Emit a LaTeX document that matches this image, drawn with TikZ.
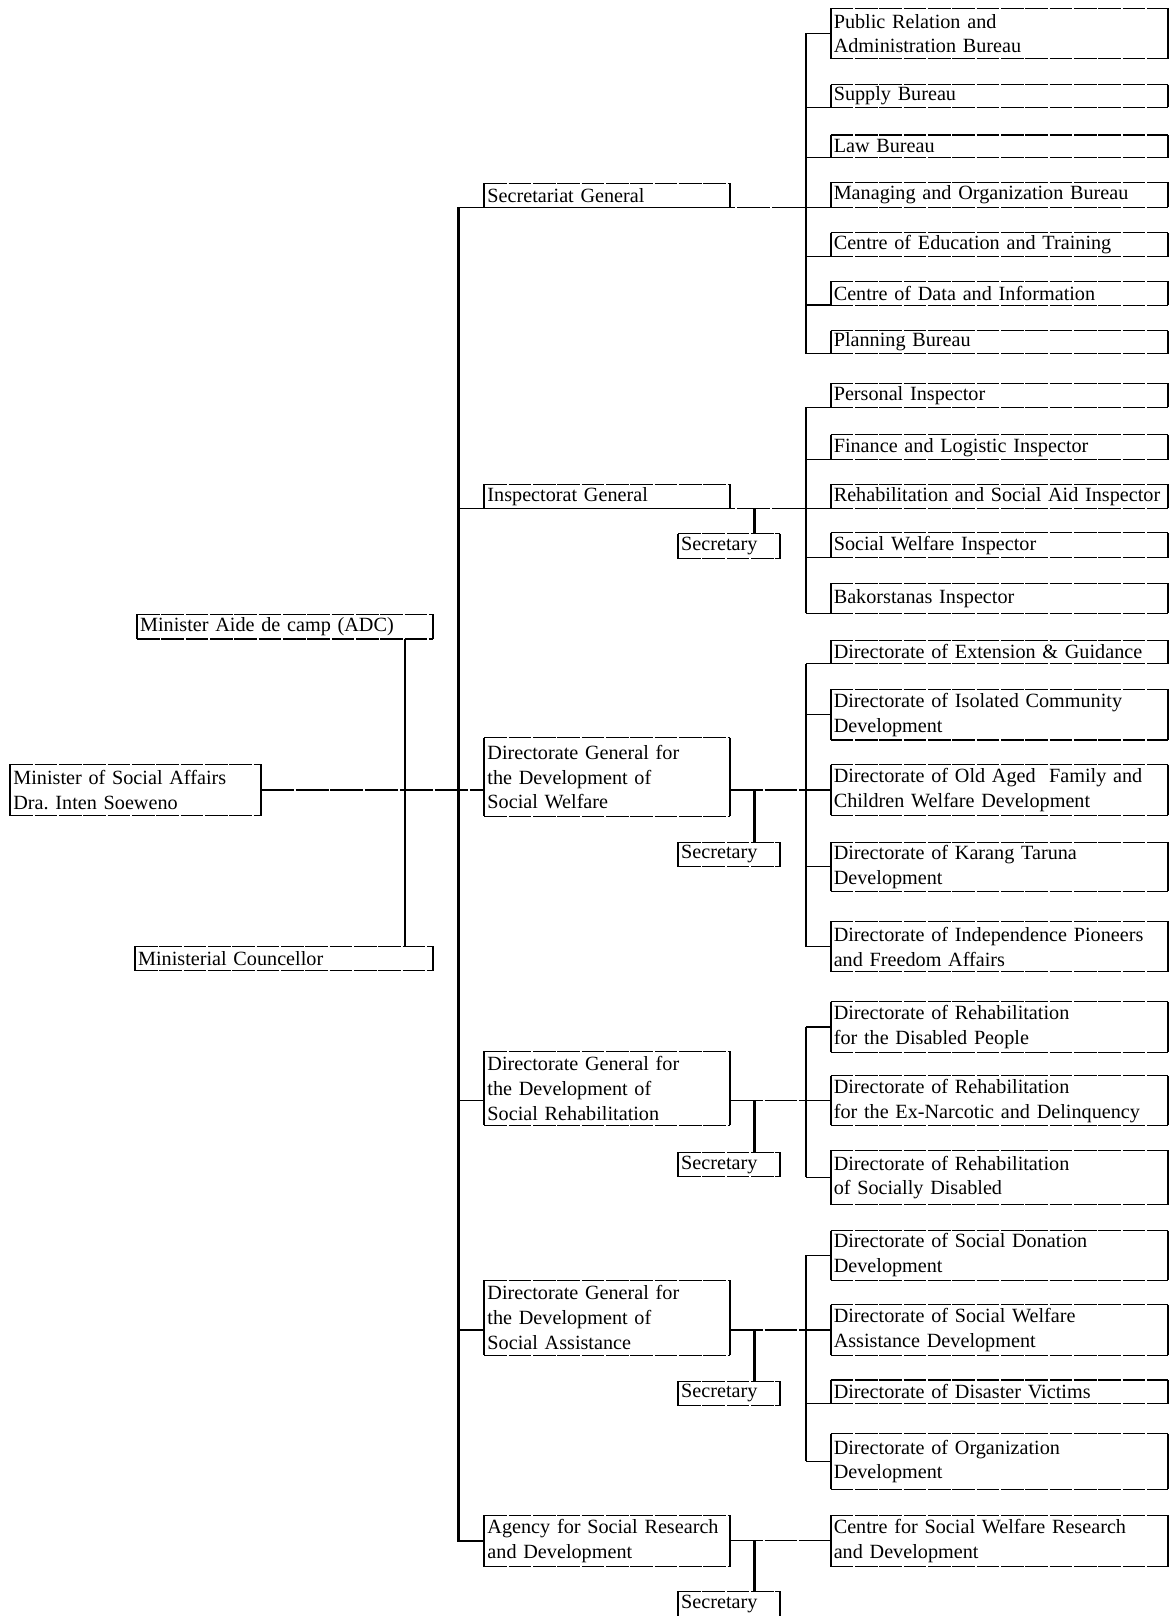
\documentclass[tikz,border=0pt]{standalone}
\usepackage{fontspec}
\setmainfont{Liberation Serif}
\hyphenpenalty=10000
\exhyphenpenalty=10000
\begin{document}
\begin{tikzpicture}[x=0.5pt,y=-0.5pt,
  box/.style={anchor=north west, inner xsep=1.5pt, inner ysep=0pt, outer sep=0pt, align=left, font=\fontsize{9.8}{12}\selectfont},
  mid/.style={box, text width=116pt},
  rgt/.style={box, text width=160.5pt},
  sec/.style={box, text width=46.5pt, minimum height=12pt},
  trunk/.style={line width=1.1pt},
  conn/.style={line width=0.55pt, dash pattern=on 16pt off 0.9pt},
  vedge/.style={line width=1pt},
  hedge/.style={line width=0.5pt, dash pattern=on 11pt off 0.8pt}]
\useasboundingbox[fill=white] (0,0) rectangle (1136,1568);
\coordinate (T) at (445,0);
\coordinate (G) at (782,0);
\coordinate (S) at (732,0);
% left column
\node[box, text width=118.5pt, minimum height=25pt] (min) at (10,741.5) {Minister of Social Affairs\\Dra.\ Inten Soeweno};
\node[box, text width=140.5pt, minimum height=12pt] (adc) at (133,596) {Minister Aide de camp (ADC)};
\node[box, text width=141.5pt, minimum height=12pt] (cou) at (131,918) {Ministerial Councellor};
% middle column
\node[mid, minimum height=11.5pt] (sg) at (470,178) {Secretariat General};
\node[mid, minimum height=11.5pt] (ig) at (470,470) {Inspectorat General};
\node[mid, minimum height=38pt] (dgw) at (470,716) {Directorate General for\\the Development of\\Social Welfare};
\node[mid, minimum height=36pt] (dgr) at (470,1020) {Directorate General for\\the Development of\\Social Rehabilitation};
\node[mid, minimum height=36.5pt] (dga) at (470,1242) {Directorate General for\\the Development of\\Social Assistance};
\node[mid, minimum height=25pt] (ag) at (470,1470) {Agency for Social Research\\and Development};
% secretaries
\node[sec] (s1) at (658,518) {Secretary};
\node[sec] (s2) at (658,817) {Secretary};
\node[sec] (s3) at (658,1118) {Secretary};
\node[sec] (s4) at (658,1340) {Secretary};
\node[sec] (s5) at (658,1544) {Secretary};
% right column, group 1
\node[rgt, minimum height=24.5pt] (pr) at (806,8) {Public Relation and\\Administration Bureau};
\node[rgt, minimum height=11pt] (sup) at (806,82) {Supply Bureau};
\node[rgt, minimum height=11pt] (law) at (806,131) {Law Bureau};
\node[rgt, minimum height=12pt] (man) at (806,177) {Managing and Organization Bureau};
\node[rgt, minimum height=11.5pt] (edu) at (806,226) {Centre of Education and Training};
\node[rgt, minimum height=11.5pt] (dat) at (806,273) {Centre of Data and Information};
\node[rgt, minimum height=11pt] (pla) at (806,321) {Planning Bureau};
% group 2
\node[rgt, minimum height=11.5pt] (per) at (806,372) {Personal Inspector};
\node[rgt, minimum height=12pt] (fin) at (806,422) {Finance and Logistic Inspector};
\node[rgt, minimum height=11.5pt] (reh) at (806,470) {Rehabilitation and Social Aid Inspector};
\node[rgt, minimum height=12pt] (swi) at (806,517) {Social Welfare Inspector};
\node[rgt, minimum height=14.5pt] (bak) at (806,566) {Bakorstanas Inspector};
% group 3
\node[rgt, minimum height=11.5pt] (ext) at (806,621) {Directorate of Extension \& Guidance};
\node[rgt, minimum height=24.5pt] (iso) at (806,669) {Directorate of Isolated Community\\Development};
\node[rgt, minimum height=24.5pt] (old) at (806,742) {Directorate of Old Aged\ \ Family and\\Children Welfare Development};
\node[rgt, minimum height=24pt] (kar) at (806,817) {Directorate of Karang Taruna\\Development};
\node[rgt, minimum height=24.5pt] (ind) at (806,894) {Directorate of Independence Pioneers\\and Freedom Affairs};
% group 4
\node[rgt, minimum height=24.5pt] (ra) at (806,972) {Directorate of Rehabilitation\\for the Disabled People};
\node[rgt, minimum height=24pt] (rb) at (806,1044) {Directorate of Rehabilitation\\for the Ex-Narcotic and Delinquency};
\node[rgt, minimum height=26.5pt] (rc) at (806,1116) {Directorate of Rehabilitation\\of Socially Disabled};
% group 5
\node[rgt, minimum height=24pt] (aa) at (806,1194) {Directorate of Social Donation\\Development};
\node[rgt, minimum height=24.5pt] (ab) at (806,1266) {Directorate of Social Welfare\\Assistance Development};
\node[rgt, minimum height=11.5pt] (ac) at (806,1339) {Directorate of Disaster Victims};
\node[rgt, minimum height=27pt] (ad) at (806,1391) {Directorate of Organization\\Development};
% group 6
\node[rgt, minimum height=25pt] (cen) at (806,1470) {Centre for Social Welfare Research\\and Development};
% box edges
\foreach \n in {min,adc,cou,sg,ig,dgw,dgr,dga,ag,s1,s2,s3,s4,s5,pr,sup,law,man,edu,dat,pla,per,fin,reh,swi,bak,ext,iso,old,kar,ind,ra,rb,rc,aa,ab,ac,ad,cen}{
  \draw[vedge] (\n.north west) -- (\n.south west) (\n.north east) -- (\n.south east);
  \draw[hedge] (\n.north west) -- (\n.north east) (\n.south west) -- (\n.south east);
}
% aides
\draw[trunk] ([xshift=-13.5pt]adc.south east) -- ([xshift=-13.5pt]cou.north east);
% main trunk
\draw[trunk] (T |- sg.south) -- (T |- ag.west) -- (ag.west);
% minister line
\draw[conn] (min.east) -- (min.east -| dgw.west);
% secretariat general
\draw[conn] (T |- sg.south) -- (G |- sg.south);
\draw[trunk] (G |- pr.west) -- (G |- pla.south);
\draw[conn] (G |- pr.west) -- (pr.west);
\foreach \n in {sup,law,man,edu,dat,pla} \draw[conn] (G |- \n.south) -- (\n.south west);
% inspectorat general
\draw[conn] (T |- ig.south) -- (G |- ig.south);
\draw[trunk] (S |- ig.south) -- (S |- s1.north);
\draw[trunk] (G |- per.south) -- (G |- bak.south);
\foreach \n in {per,fin,reh,swi,bak} \draw[conn] (G |- \n.south) -- (\n.south west);
% social welfare
\draw[conn] (dgw.east |- old.west) -- (old.west);
\draw[trunk] (S |- old.west) -- (S |- s2.north);
\draw[trunk] (G |- ext.south) -- (G |- ind.west);
\draw[conn] (G |- ext.south) -- (ext.south west);
\foreach \n in {iso,kar,ind} \draw[conn] (G |- \n.west) -- (\n.west);
% social rehabilitation
\draw[conn] (T |- rb.west) -- (dgr.west |- rb.west);
\draw[conn] (dgr.east |- rb.west) -- (rb.west);
\draw[trunk] (S |- rb.west) -- (S |- s3.north);
\draw[trunk] (G |- ra.west) -- (G |- rc.west);
\foreach \n in {ra,rc} \draw[conn] (G |- \n.west) -- (\n.west);
% social assistance
\draw[conn] (T |- ab.west) -- (dga.west |- ab.west);
\draw[conn] (dga.east |- ab.west) -- (ab.west);
\draw[trunk] (S |- ab.west) -- (S |- s4.north);
\draw[trunk] (G |- aa.west) -- (G |- ad.west);
\foreach \n in {aa,ad} \draw[conn] (G |- \n.west) -- (\n.west);
\draw[conn] (G |- ac.south) -- (ac.south west);
% research agency
\draw[conn] (ag.east) -- (cen.west);
\draw[trunk] (S |- ag.east) -- (S |- s5.north);
\end{tikzpicture}
\end{document}
